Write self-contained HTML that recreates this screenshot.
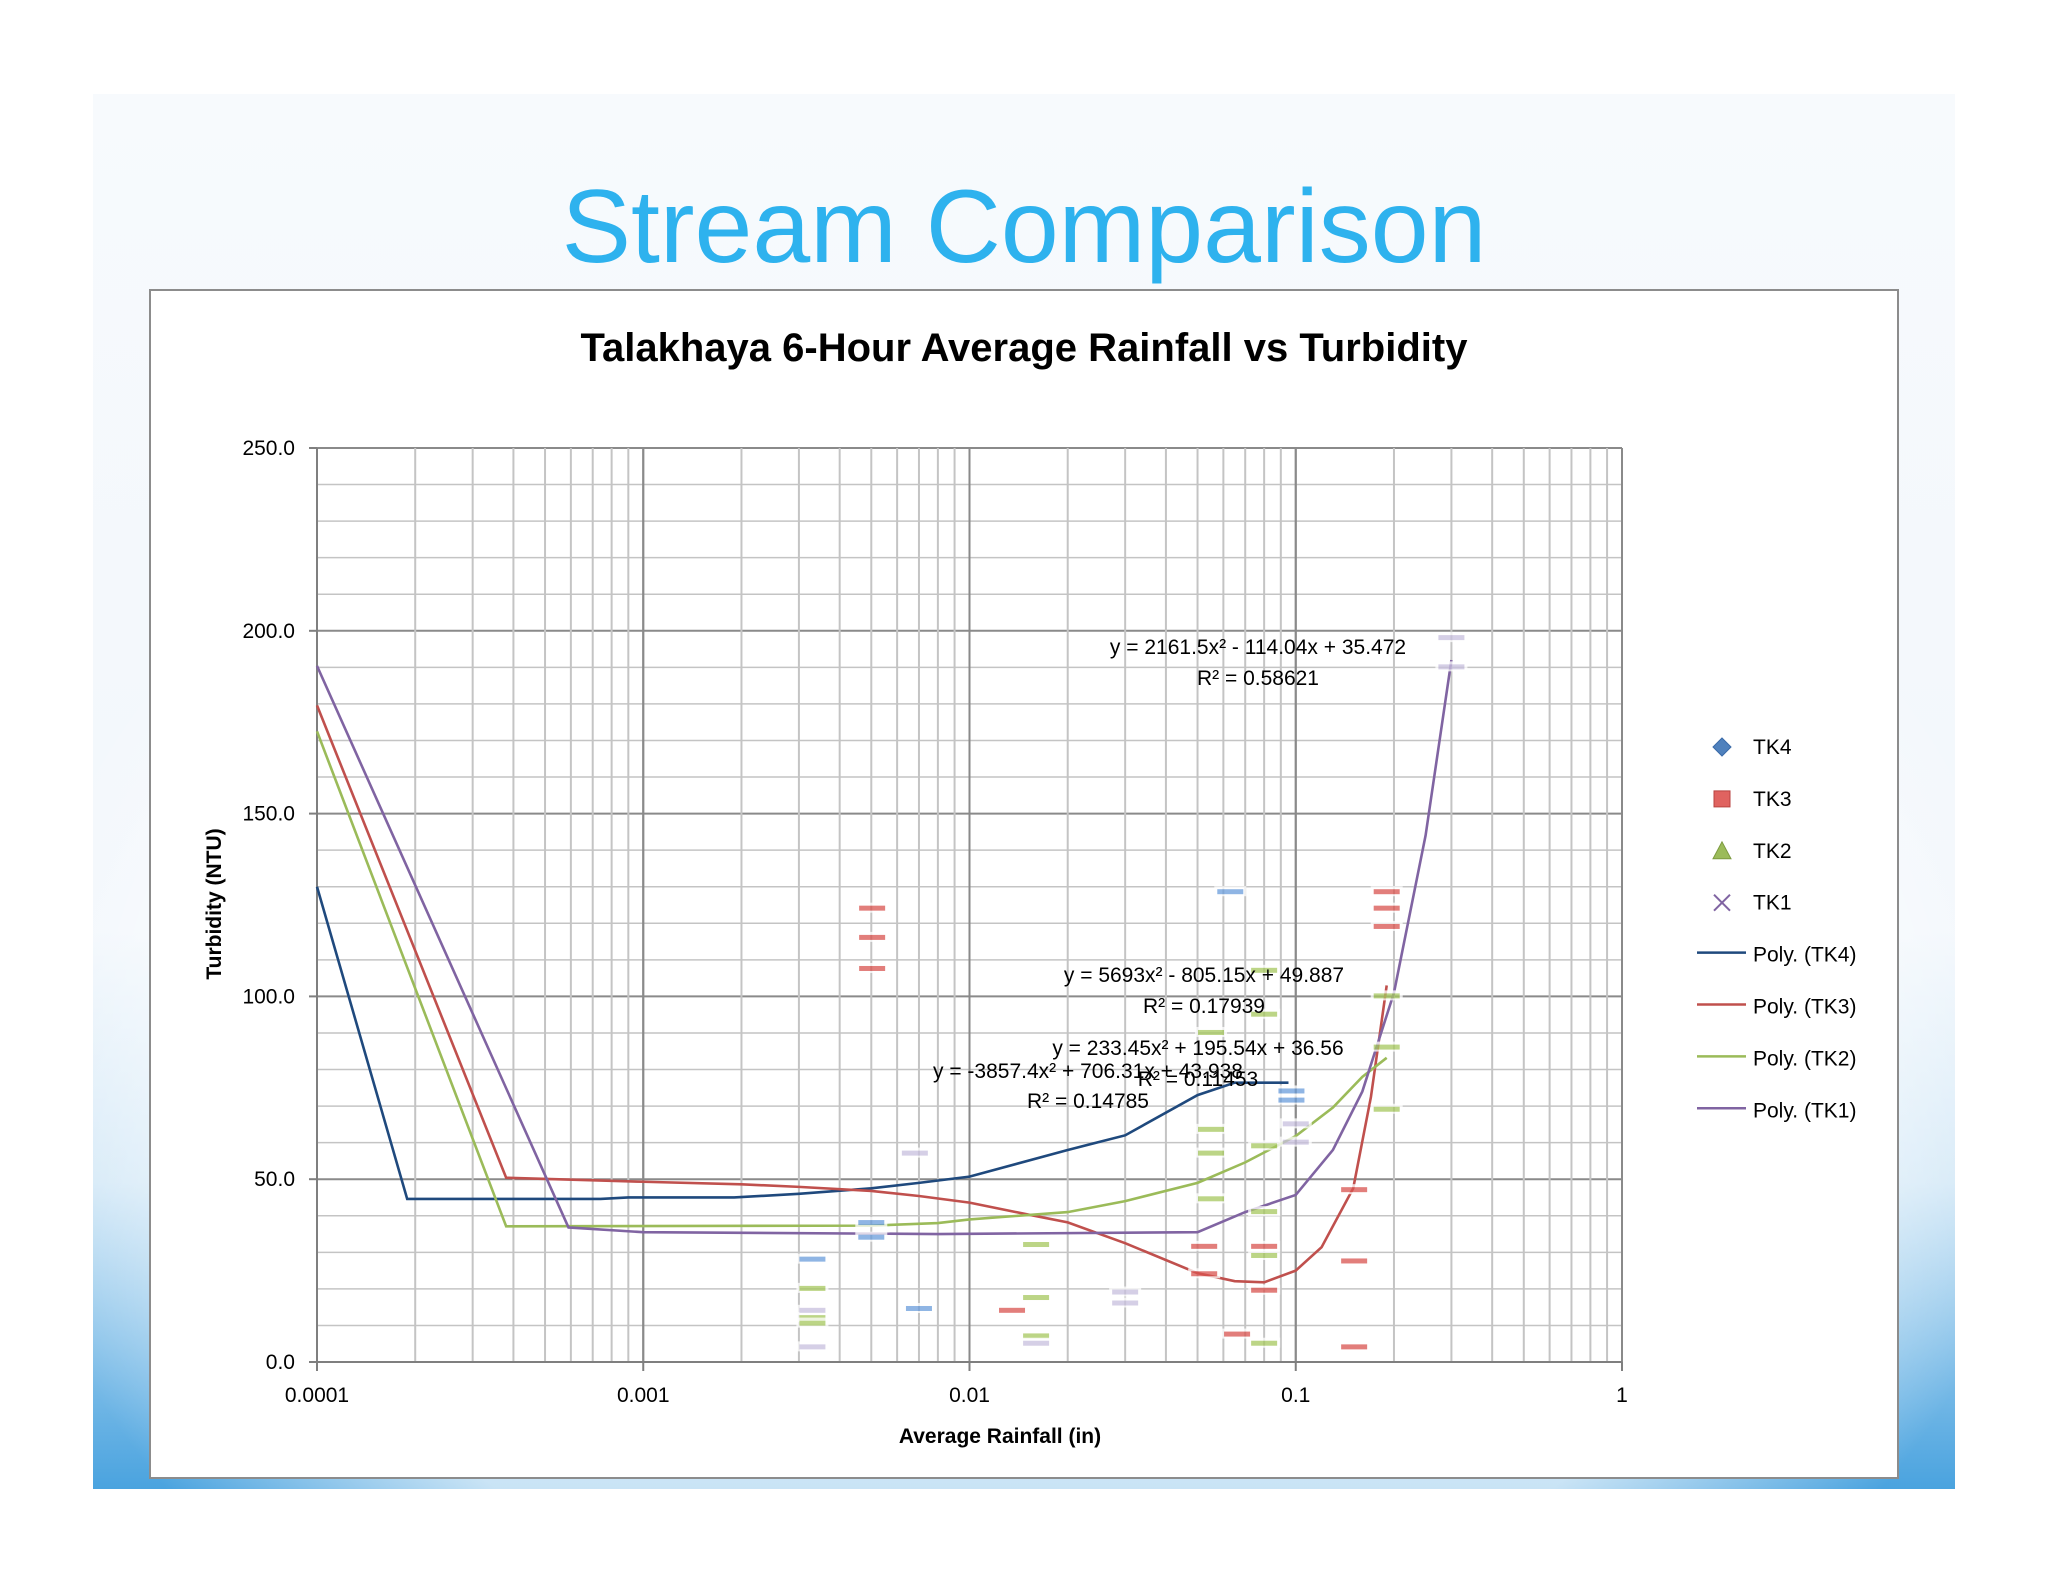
<!DOCTYPE html>
<html><head><meta charset="utf-8"><style>
html,body{margin:0;padding:0;background:#fff;}
svg{display:block;font-family:"Liberation Sans",sans-serif;}
</style></head><body>
<svg id="chart" width="2048" height="1582" viewBox="0 0 2048 1582">
<defs>
<linearGradient id="bgv" x1="0" y1="0" x2="0" y2="1">
<stop offset="0" stop-color="#f7fafd"/><stop offset="0.6" stop-color="#f2f7fc"/><stop offset="0.78" stop-color="#cfe6f6"/><stop offset="1" stop-color="#4aa3df"/>
</linearGradient>
<radialGradient id="bgr" cx="0.5" cy="0.7" r="0.55">
<stop offset="0.75" stop-color="#ffffff" stop-opacity="0.7"/><stop offset="1" stop-color="#ffffff" stop-opacity="0"/>
</radialGradient>
</defs>
<rect x="93" y="94" width="1862" height="1395" fill="url(#bgv)"/>
<rect x="93" y="94" width="1862" height="1395" fill="url(#bgr)"/>
<text x="1024" y="262" text-anchor="middle" font-size="104" fill="#2eb2ee">Stream Comparison</text>
<rect x="150" y="290" width="1748" height="1188" fill="#fff" stroke="#8c8c8c" stroke-width="2"/>
<text x="1024" y="361" text-anchor="middle" font-size="40" font-weight="bold" fill="#000">Talakhaya 6-Hour Average Rainfall vs Turbidity</text>
<g id="grid"></g>
<g id="axes"></g>
<g id="curves"></g>
<g id="markers"></g>
<g id="eqs" font-size="21" fill="#000" text-anchor="middle">
<text x="1258" y="654">y = 2161.5x² - 114.04x + 35.472</text>
<text x="1258" y="685">R² = 0.58621</text>
<text x="1204" y="982">y = 5693x² - 805.15x + 49.887</text>
<text x="1204" y="1013">R² = 0.17939</text>
<text x="1198" y="1055">y = 233.45x² + 195.54x + 36.56</text>
<text x="1198" y="1086">R² = 0.11453</text>
<text x="1088" y="1078">y = -3857.4x² + 706.31x + 43.938</text>
<text x="1088" y="1108">R² = 0.14785</text>
</g>
<text x="1000" y="1443" text-anchor="middle" font-size="21" font-weight="bold">Average Rainfall (in)</text>
<text transform="translate(221,904) rotate(-90)" text-anchor="middle" font-size="21" font-weight="bold">Turbidity (NTU)</text>
<g id="legend" font-size="21"></g>
</svg>
<script>
const xTicks=[0.0001,0.001,0.01,0.1,1];
const xTickLabels=["0.0001","0.001","0.01","0.1","1"];
const yTicks=[0,50,100,150,200,250];
const yTickLabels=["0.0","50.0","100.0","150.0","200.0","250.0"];
const tk4X=[0.0001,0.000189,0.00074,0.0009,0.0019,0.003,0.005,0.007,0.01,0.02,0.03,0.05,0.065,0.095];
const tk4Y=[130,44.6,44.6,45,45,46,47.5,49,50.7,58,62,73,76.4,76.4];
const tk3X=[0.0001,0.00038,0.001,0.002,0.003,0.005,0.007,0.01,0.015,0.02,0.03,0.05,0.065,0.08,0.1,0.12,0.15,0.17,0.19];
const tk3Y=[179.6,50.4,49.3,48.6,47.9,46.8,45.4,43.6,40.4,38.2,32.5,24.3,22.1,21.8,25,31.4,47.5,72.5,103];
const tk2X=[0.0001,0.00038,0.005,0.008,0.01,0.02,0.03,0.05,0.07,0.1,0.13,0.16,0.19];
const tk2Y=[172.5,37.1,37.3,38,39,41,44,49,54.6,61.8,69.6,78,83.2];
const tk1X=[0.0001,0.00059,0.001,0.008,0.05,0.07,0.1,0.13,0.16,0.2,0.25,0.3];
const tk1Y=[190.4,36.8,35.5,35,35.5,41,45.7,58,74,101,144,192];
const m4X=[0.0033,0.005,0.005,0.007,0.063,0.097,0.097];
const m4Y=[28,38,34,14.5,128.5,74,71.5];
const m3X=[0.00503,0.00503,0.00503,0.0135,0.0524,0.0524,0.0661,0.08,0.08,0.151,0.151,0.151,0.19,0.19,0.19];
const m3Y=[124,116,107.5,14,24,31.5,7.5,31.5,19.5,47,27.5,4,128.5,124,119];
const m2X=[0.0033,0.0033,0.0033,0.016,0.016,0.016,0.055,0.055,0.055,0.055,0.08,0.08,0.08,0.08,0.08,0.08,0.19,0.19,0.19];
const m2Y=[20,12,10.5,32,17.5,7,90,63.5,57,44.5,107,95,59,41,29,5,100,86,69];
const m1X=[0.0033,0.0033,0.0068,0.016,0.03,0.03,0.1,0.1,0.3,0.3];
const m1Y=[14,4,57,5,19,16,65,60,198,190];

const X0=317,X1=1622,Y0=1362,Y1=448;
const sx=v=>X0+(Math.log10(v)+4)/4*(X1-X0);
const sy=v=>Y0-v/250*(Y0-Y1);
const NS="http://www.w3.org/2000/svg";
function mk(tag,attrs,parent){const e=document.createElementNS(NS,tag);for(const k in attrs)e.setAttribute(k,attrs[k]);parent.appendChild(e);return e;}
const grid=document.getElementById('grid'),axes=document.getElementById('axes');
for(let v=0;v<=250;v+=10){
 const l=mk('line',{x1:X0,x2:X1,y1:sy(v),y2:sy(v),stroke:v%50===0?'#8a8a8a':'#c4c4c4','stroke-width':v%50===0?2:1.5},grid);
 
 
}
for(let d=-4;d<0;d++){for(let m=1;m<=10;m++){
 const v=m*Math.pow(10,d);
 const l=mk('line',{x1:sx(v),x2:sx(v),y1:Y1,y2:Y0,stroke:(m===1||m===10)?'#8a8a8a':'#c4c4c4','stroke-width':2},grid);
 
 
}}
const ax=mk('line',{x1:X0,x2:X0,y1:Y1,y2:Y0,stroke:'#7f7f7f','stroke-width':2},axes);


const ax2=mk('line',{x1:X0,x2:X1,y1:Y0,y2:Y0,stroke:'#7f7f7f','stroke-width':2},axes);


yTicks.forEach((v,i)=>{
 mk('line',{x1:X0-8,x2:X0,y1:sy(v),y2:sy(v),stroke:'#7f7f7f','stroke-width':2},axes);
 const t=mk('text',{x:X0-22,y:sy(v)+7,'text-anchor':'end','font-size':21},axes);t.textContent=yTickLabels[i];
 
 
});
xTicks.forEach((v,i)=>{
 mk('line',{x1:sx(v),x2:sx(v),y1:Y0,y2:Y0+9,stroke:'#7f7f7f','stroke-width':2},axes);
 const t=mk('text',{x:sx(v),y:Y0+40,'text-anchor':'middle','font-size':21},axes);t.textContent=xTickLabels[i];
 
 
});
const markers=document.getElementById('markers');
function pts(xs,ys,col,name){
 xs.forEach((x,i)=>{
  const cx=sx(x),cy=sy(ys[i]);
  const g=mk('g',{opacity:0.75},markers);
  
  
  mk('rect',{x:cx-16,y:cy-6,width:32,height:10,fill:'#fff'},g);
  mk('rect',{x:cx-13,y:cy-3,width:26,height:5,fill:col},g);
 });
}
pts(m4X,m4Y,'#6a9ddb','tk4-point');
pts(m2X,m2Y,'#a6c85e','tk2-point');
pts(m1X,m1Y,'#c8c0de','tk1-point');
pts(m3X,m3Y,'#d9534f','tk3-point');
const curves=document.getElementById('curves');
function line(xs,ys,col,name){
 const p=mk('polyline',{points:xs.map((x,i)=>sx(x)+','+sy(ys[i])).join(' '),fill:'none',stroke:col,'stroke-width':2.6},curves);
 
 
}
line(tk4X,tk4Y,'#1f497d','poly-tk4-line');
line(tk3X,tk3Y,'#c0504d','poly-tk3-line');
line(tk2X,tk2Y,'#9bbb59','poly-tk2-line');
line(tk1X,tk1Y,'#8064a2','poly-tk1-line');
const legendLabels=["TK4","TK3","TK2","TK1","Poly. (TK4)","Poly. (TK3)","Poly. (TK2)","Poly. (TK1)"];
const legendColors=["#4f81bd","#c0504d","#9bbb59","#8064a2","#1f497d","#c0504d","#9bbb59","#8064a2"];
const lg=document.getElementById('legend');
legendLabels.forEach((lab,i)=>{
 const y=747+i*51.9;
 const g=mk('g',{},lg);
 
 
 const c=legendColors[i],mx=1722;
 if(i===0)mk('polygon',{points:`${mx},${y-9} ${mx+9},${y} ${mx},${y+9} ${mx-9},${y}`,fill:'#4f81bd',stroke:'#3a6aa8'},g);
 else if(i===1)mk('rect',{x:mx-8,y:y-8,width:16,height:16,fill:'#e06360',stroke:'#b84340'},g);
 else if(i===2)mk('polygon',{points:`${mx},${y-9} ${mx+9},${y+8} ${mx-9},${y+8}`,fill:'#9bbb59',stroke:'#7c9a40'},g);
 else if(i===3){mk('line',{x1:mx-8,y1:y-8,x2:mx+8,y2:y+8,stroke:c,'stroke-width':2},g);mk('line',{x1:mx-8,y1:y+8,x2:mx+8,y2:y-8,stroke:c,'stroke-width':2},g);}
 else mk('line',{x1:1697,x2:1746,y1:y-2,y2:y-2,stroke:c,'stroke-width':2.5},g);
 const t=mk('text',{x:1753,y:y+7},g);t.textContent=lab;
});
</script>
</body></html>
